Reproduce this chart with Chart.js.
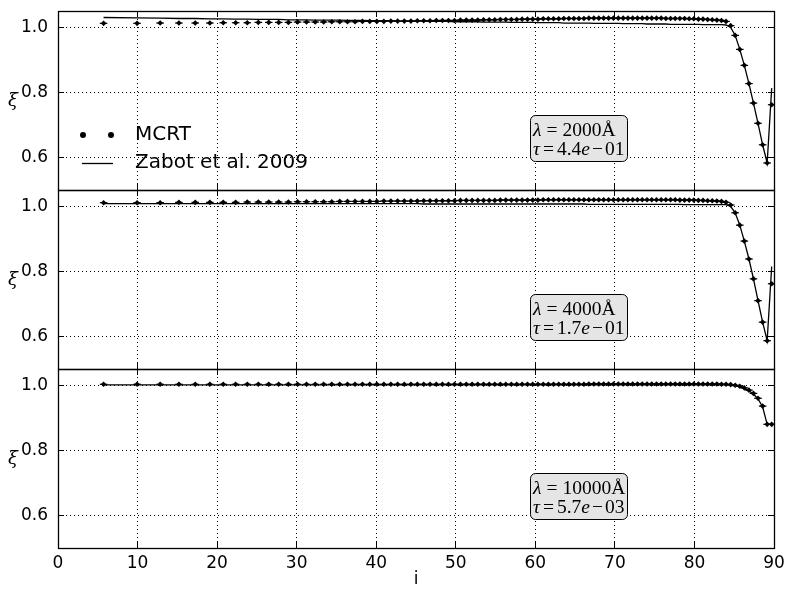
<!DOCTYPE html>
<html><head><meta charset="utf-8">
<script src="https://cdn.jsdelivr.net/npm/chart.js@4.4.1/dist/chart.umd.min.js"></script>
<style>
html,body{margin:0;padding:0;background:#fff;}
#wrap{position:relative;width:788px;height:590px;overflow:hidden;background:#fff;}
canvas{position:absolute;left:0;}
</style></head><body>
<div id="wrap">
<canvas id="c1" width="788" height="200" style="top:0px"></canvas>
<canvas id="c2" width="788" height="200" style="top:180px"></canvas>
<canvas id="c3" width="788" height="231" style="top:359px"></canvas>
</div>
<script>
// ---------------- data ----------------
const inclination = [
 5.73, 9.94, 12.84, 15.20, 17.25, 19.09, 20.77, 22.33, 23.79, 25.18,
 26.49, 27.74, 28.96, 30.12, 31.24, 32.33, 33.39, 34.41, 35.41, 36.39,
 37.34, 38.27, 39.19, 40.08, 40.96, 41.84, 42.69, 43.53, 44.36, 45.17,
 45.97, 46.76, 47.55, 48.32, 49.08, 49.84, 50.58, 51.32, 52.05, 52.77,
 53.49, 54.20, 54.90, 55.60, 56.29, 56.98, 57.66, 58.34, 59.01, 59.67,
 60.33, 60.99, 61.64, 62.29, 62.94, 63.58, 64.22, 64.85, 65.48, 66.11,
 66.73, 67.36, 67.98, 68.59, 69.21, 69.82, 70.43, 71.04, 71.64, 72.24,
 72.84, 73.44, 74.04, 74.63, 75.23, 75.82, 76.41, 77.00, 77.58, 78.17,
 78.76, 79.34, 79.92, 80.50, 81.08, 81.66, 82.24, 82.82, 83.40, 83.97,
 84.55, 85.12, 85.70, 86.27, 86.85, 87.42, 87.99, 88.57, 89.14, 89.71];

const mcrt2000 = [
 1.012, 1.012, 1.013, 1.013, 1.013, 1.013, 1.014, 1.014, 1.014, 1.015,
 1.015, 1.015, 1.015, 1.016, 1.016, 1.016, 1.016, 1.017, 1.017, 1.017,
 1.017, 1.018, 1.018, 1.018, 1.018, 1.019, 1.019, 1.019, 1.019, 1.020,
 1.020, 1.020, 1.021, 1.021, 1.021, 1.021, 1.022, 1.022, 1.022, 1.022,
 1.023, 1.023, 1.023, 1.024, 1.024, 1.024, 1.024, 1.025, 1.025, 1.025,
 1.025, 1.026, 1.026, 1.026, 1.026, 1.027, 1.027, 1.027, 1.027, 1.027,
 1.028, 1.028, 1.028, 1.028, 1.028, 1.028, 1.028, 1.028, 1.028, 1.028,
 1.028, 1.028, 1.028, 1.028, 1.028, 1.028, 1.027, 1.027, 1.027, 1.027,
 1.027, 1.026, 1.026, 1.025, 1.025, 1.024, 1.023, 1.022, 1.021, 1.018,
 1.005, 0.975, 0.932, 0.883, 0.827, 0.767, 0.705, 0.639, 0.583, 0.762];
const zabot2000 = [
 1.030, 1.029, 1.028, 1.027, 1.027, 1.026, 1.026, 1.025, 1.025, 1.024,
 1.024, 1.024, 1.023, 1.023, 1.023, 1.022, 1.022, 1.022, 1.022, 1.021,
 1.021, 1.021, 1.020, 1.020, 1.020, 1.020, 1.019, 1.019, 1.019, 1.019,
 1.019, 1.018, 1.018, 1.018, 1.018, 1.017, 1.017, 1.017, 1.017, 1.017,
 1.016, 1.016, 1.016, 1.016, 1.016, 1.015, 1.015, 1.015, 1.015, 1.015,
 1.014, 1.014, 1.014, 1.014, 1.014, 1.013, 1.013, 1.013, 1.013, 1.013,
 1.013, 1.012, 1.012, 1.012, 1.012, 1.012, 1.012, 1.011, 1.011, 1.011,
 1.011, 1.011, 1.010, 1.010, 1.010, 1.010, 1.010, 1.009, 1.009, 1.009,
 1.009, 1.009, 1.009, 1.009, 1.008, 1.008, 1.008, 1.008, 1.008, 1.007,
 1.000, 0.975, 0.932, 0.883, 0.827, 0.767, 0.705, 0.639, 0.583, 0.813];

const mcrt4000 = [
 1.011, 1.011, 1.011, 1.012, 1.012, 1.012, 1.012, 1.012, 1.013, 1.013,
 1.013, 1.013, 1.013, 1.014, 1.014, 1.014, 1.014, 1.014, 1.015, 1.015,
 1.015, 1.015, 1.015, 1.015, 1.016, 1.016, 1.016, 1.016, 1.016, 1.016,
 1.017, 1.017, 1.017, 1.017, 1.017, 1.017, 1.018, 1.018, 1.018, 1.018,
 1.018, 1.018, 1.018, 1.019, 1.019, 1.019, 1.019, 1.019, 1.019, 1.019,
 1.019, 1.020, 1.020, 1.020, 1.020, 1.020, 1.020, 1.020, 1.020, 1.020,
 1.020, 1.020, 1.020, 1.020, 1.020, 1.020, 1.020, 1.020, 1.020, 1.020,
 1.020, 1.020, 1.020, 1.020, 1.020, 1.020, 1.020, 1.020, 1.020, 1.019,
 1.019, 1.019, 1.019, 1.018, 1.018, 1.017, 1.017, 1.016, 1.015, 1.012,
 1.004, 0.980, 0.942, 0.893, 0.838, 0.777, 0.710, 0.644, 0.587, 0.762];
const zabot4000 = [
 1.008, 1.008, 1.008, 1.008, 1.008, 1.008, 1.008, 1.008, 1.008, 1.008,
 1.008, 1.008, 1.008, 1.008, 1.008, 1.008, 1.008, 1.008, 1.008, 1.008,
 1.008, 1.008, 1.008, 1.008, 1.008, 1.008, 1.008, 1.008, 1.008, 1.008,
 1.007, 1.007, 1.007, 1.007, 1.007, 1.007, 1.007, 1.007, 1.007, 1.007,
 1.007, 1.007, 1.007, 1.007, 1.007, 1.007, 1.007, 1.007, 1.007, 1.007,
 1.007, 1.007, 1.007, 1.007, 1.007, 1.007, 1.007, 1.007, 1.007, 1.007,
 1.006, 1.006, 1.006, 1.006, 1.006, 1.006, 1.006, 1.006, 1.006, 1.006,
 1.006, 1.006, 1.006, 1.006, 1.006, 1.006, 1.006, 1.006, 1.006, 1.006,
 1.005, 1.005, 1.005, 1.005, 1.005, 1.005, 1.005, 1.005, 1.005, 1.005,
 1.000, 0.980, 0.942, 0.893, 0.838, 0.777, 0.710, 0.644, 0.587, 0.815];

const mcrt10000 = [
 1.003, 1.003, 1.003, 1.003, 1.003, 1.003, 1.003, 1.003, 1.003, 1.003,
 1.003, 1.003, 1.003, 1.003, 1.003, 1.003, 1.003, 1.003, 1.003, 1.003,
 1.003, 1.003, 1.003, 1.003, 1.003, 1.003, 1.003, 1.003, 1.003, 1.003,
 1.003, 1.003, 1.003, 1.003, 1.003, 1.003, 1.003, 1.003, 1.003, 1.003,
 1.003, 1.003, 1.003, 1.003, 1.003, 1.003, 1.003, 1.003, 1.003, 1.003,
 1.003, 1.003, 1.003, 1.003, 1.003, 1.003, 1.003, 1.003, 1.003, 1.003,
 1.004, 1.004, 1.004, 1.004, 1.004, 1.004, 1.004, 1.004, 1.004, 1.004,
 1.004, 1.004, 1.004, 1.004, 1.004, 1.004, 1.004, 1.004, 1.004, 1.004,
 1.004, 1.004, 1.004, 1.004, 1.004, 1.004, 1.004, 1.004, 1.003, 1.003,
 1.002, 1.000, 0.997, 0.992, 0.985, 0.975, 0.960, 0.936, 0.880, 0.880];
const zabot10000 = [
 1.001, 1.001, 1.001, 1.001, 1.001, 1.001, 1.001, 1.001, 1.001, 1.001,
 1.001, 1.001, 1.001, 1.001, 1.001, 1.001, 1.001, 1.001, 1.001, 1.001,
 1.001, 1.001, 1.001, 1.001, 1.001, 1.001, 1.001, 1.001, 1.001, 1.001,
 1.001, 1.001, 1.001, 1.001, 1.001, 1.001, 1.001, 1.001, 1.001, 1.001,
 1.001, 1.001, 1.001, 1.001, 1.001, 1.001, 1.001, 1.001, 1.001, 1.001,
 1.001, 1.001, 1.001, 1.001, 1.001, 1.001, 1.001, 1.001, 1.001, 1.001,
 1.001, 1.001, 1.001, 1.001, 1.001, 1.001, 1.001, 1.001, 1.001, 1.001,
 1.001, 1.001, 1.001, 1.001, 1.001, 1.001, 1.001, 1.001, 1.001, 1.001,
 1.001, 1.001, 1.001, 1.001, 1.001, 1.001, 1.001, 1.001, 1.001, 1.001,
 1.000, 0.998, 0.995, 0.990, 0.983, 0.973, 0.958, 0.934, 0.880, 0.880];

const xTicks = [0, 10, 20, 30, 40, 50, 60, 70, 80, 90];
const yTicks = [0.6, 0.8, 1.0];
const seriesLabels = ['MCRT', 'Zabot et al. 2009'];
const wavelengths = ['2000', '4000', '10000'];
const opticalDepths = ['4.4e-01', '1.7e-01', '5.7e-03'];
const xLabel = 'i';
const yLabel = 'ξ';

const panels = [
  {mcrt: mcrt2000, zabot: zabot2000},
  {mcrt: mcrt4000, zabot: zabot4000},
  {mcrt: mcrt10000, zabot: zabot10000}
];

// ---------------- drawing ----------------
Chart.defaults.color = '#000';
Chart.defaults.font.family = '"DejaVu Sans", sans-serif';

function pts(vals) { return inclination.map((x, i) => ({x: x, y: vals[i]})); }
function align(p) { return Math.round(p - 0.5) + 0.5; }

function drawSegments(ctx, x, y, segs, size) {
  let cx = x;
  segs.forEach(s => {
    cx += s.pre || 0;
    ctx.font = (s.it ? 'italic ' : '') + size + 'px "Liberation Serif", "DejaVu Serif", serif';
    ctx.fillText(s.t, cx, y);
    cx += ctx.measureText(s.t).width + (s.post || 0);
  });
}

function decoPlugin(idx) {
  return {
    id: 'deco' + idx,
    afterDraw(chart) {
      const ctx = chart.ctx, ca = chart.chartArea;
      const xs = chart.scales.x, ys = chart.scales.y;
      ctx.save();
      // inward ticks
      ctx.strokeStyle = '#000';
      ctx.lineWidth = 1;
      ctx.beginPath();
      xTicks.forEach(v => {
        const p = align(xs.getPixelForValue(v));
        ctx.moveTo(p, ca.top); ctx.lineTo(p, ca.top + 6);
        ctx.moveTo(p, ca.bottom); ctx.lineTo(p, ca.bottom - 6);
      });
      yTicks.forEach(v => {
        const p = align(ys.getPixelForValue(v));
        ctx.moveTo(ca.left, p); ctx.lineTo(ca.left + 6, p);
        ctx.moveTo(ca.right, p); ctx.lineTo(ca.right - 6, p);
      });
      ctx.stroke();
      // frame
      ctx.lineWidth = 1.3;
      ctx.strokeRect(align(ca.left), align(ca.top), Math.round(ca.right - ca.left), Math.round(ca.bottom - ca.top));
      // y label
      ctx.fillStyle = '#000';
      ctx.textAlign = 'center';
      ctx.textBaseline = 'middle';
      ctx.font = 'italic 18px "DejaVu Serif", serif';
      ctx.fillText(yLabel, 13, (ca.top + ca.bottom) / 2 + 1);
      // annotation box
      const bx = ca.left + 472, by = ca.top + 104, bw = 97, bh = 46;
      ctx.beginPath();
      ctx.roundRect(bx + 0.5, by + 0.5, bw, bh, 5);
      ctx.fillStyle = '#e5e5e5';
      ctx.fill();
      ctx.lineWidth = 1;
      ctx.strokeStyle = '#000';
      ctx.stroke();
      ctx.fillStyle = '#000';
      ctx.textAlign = 'left';
      ctx.textBaseline = 'middle';
      drawSegments(ctx, bx + 3, by + 16, [
        {t: 'λ', it: true, post: 5},
        {t: '=', post: 5},
        {t: wavelengths[idx] + 'Å'}
      ], 19.5);
      const m = opticalDepths[idx].split('e');
      const mant = m[0];
      const expo = m[1];
      const sign = expo[0] === '-' ? '−' : '+';
      drawSegments(ctx, bx + 3, by + 35, [
        {t: 'τ', it: true, post: 3},
        {t: '=', post: 3},
        {t: mant},
        {t: 'e', it: true, post: 2},
        {t: sign, post: 2},
        {t: expo.replace(/^[-+]/, '')}
      ], 19.5);
      // legend (top panel only)
      if (idx === 0) {
        const lx = ca.left + 25, ly1 = ca.top + 124, ly2 = ca.top + 152;
        ctx.beginPath();
        ctx.arc(lx, ly1, 3, 0, Math.PI * 2);
        ctx.arc(lx + 28, ly1, 3, 0, Math.PI * 2);
        ctx.fill();
        ctx.beginPath();
        ctx.lineWidth = 1.3;
        ctx.moveTo(lx - 1, ly2 + 0.5); ctx.lineTo(lx + 30, ly2 + 0.5);
        ctx.stroke();
        ctx.font = '20px "DejaVu Sans", sans-serif';
        ctx.textBaseline = 'middle';
        ctx.fillText(seriesLabels[0], ca.left + 77, ly1);
        ctx.fillText(seriesLabels[1], ca.left + 77, ly2);
      }
      ctx.restore();
    }
  };
}

function makeChart(id, idx, pad, bottom) {
  const p = panels[idx];
  return new Chart(document.getElementById(id), {
    type: 'line',
    data: {
      datasets: [
        {label: seriesLabels[0], data: pts(p.mcrt), showLine: false, pointStyle: 'rectRot',
         pointRadius: 2.8, pointBackgroundColor: '#000', pointBorderWidth: 0, borderColor: '#000'},
        {label: seriesLabels[0] + ' bars', data: pts(p.mcrt), showLine: false, pointStyle: 'line',
         pointRadius: 3.8, pointBorderWidth: 1.2, pointBorderColor: '#000', borderColor: '#000'},
        {label: seriesLabels[1], data: pts(p.zabot), showLine: true, pointRadius: 0,
         borderColor: '#000', borderWidth: 1.3, tension: 0, fill: false}
      ]
    },
    options: {
      responsive: false,
      animation: false,
      devicePixelRatio: 1,
      layout: {padding: {top: pad[0], bottom: pad[1], left: 0, right: 14}},
      plugins: {legend: {display: false}, tooltip: {enabled: false}},
      scales: {
        x: {
          type: 'linear', min: 0, max: 90,
          afterBuildTicks: s => { s.ticks = xTicks.map(v => ({value: v})); },
          afterFit: s => { s.height = bottom ? 42 : 0; s.paddingLeft = 0; s.paddingRight = 0; },
          grid: {color: '#000', lineWidth: 1, drawTicks: false},
          border: {display: false, dash: [1, 3]},
          ticks: {display: bottom, padding: 5, font: {size: 17}, maxRotation: 0,
                  callback: v => String(v)},
          title: {display: bottom, text: xLabel, font: {size: 17}, padding: 0}
        },
        y: {
          type: 'linear', min: 0.5, max: 1.05,
          afterBuildTicks: s => { s.ticks = yTicks.map(v => ({value: v})); },
          afterFit: s => { s.width = 58; s.paddingTop = 0; s.paddingBottom = 0; },
          grid: {color: '#000', lineWidth: 1, drawTicks: false},
          border: {display: false, dash: [1, 3]},
          ticks: {padding: 10, font: {size: 17}, callback: v => Number(v).toFixed(1)}
        }
      }
    },
    plugins: [decoPlugin(idx)]
  });
}

makeChart('c1', 0, [11, 10], false);
makeChart('c2', 1, [10, 11], false);
makeChart('c3', 2, [10, 0], true);
</script>
</body></html>
